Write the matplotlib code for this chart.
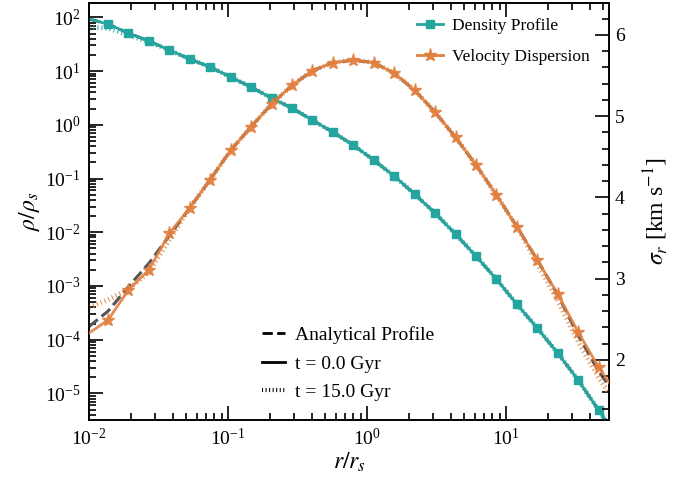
import matplotlib
matplotlib.use("Agg")
import matplotlib.pyplot as plt
from matplotlib.lines import Line2D
from matplotlib.ticker import LogLocator, MultipleLocator, NullFormatter

plt.rcParams.update({
    "font.family": ["Liberation Serif", "DejaVu Serif"],
    "mathtext.fontset": "stix",
    "xtick.direction": "in",
    "ytick.direction": "in",
    "axes.linewidth": 1.2,
})

# radius grid (r/r_s), plus the two line ends
r = [0.0100, 0.0137, 0.0192, 0.0270, 0.0379, 0.0531, 0.0745, 0.1046, 0.1467,
     0.206, 0.289, 0.405, 0.569, 0.798, 1.120, 1.572, 2.205, 3.095, 4.343,
     6.094, 8.55, 12.0, 16.84, 23.63, 33.2, 46.5, 55.5]

# density profile rho/rho_s
rho_t0 = [93, 75.0, 51.0, 36.2, 24.6, 16.7, 11.9, 7.73, 5.04, 3.14, 2.05, 1.22,
          0.731, 0.419, 0.220, 0.111, 0.0512, 0.0227, 9.23e-3, 3.59e-3, 1.34e-3,
          4.58e-4, 1.64e-4, 5.61e-5, 1.76e-5, 4.87e-6, 2.45e-6]
rho_t15 = [66, 63.0, 46.8, 34.7, 24.6, 16.7, 11.9, 7.73, 5.04, 3.14, 2.05, 1.22,
           0.731, 0.419, 0.220, 0.111, 0.0512, 0.0227, 9.23e-3, 3.59e-3, 1.34e-3,
           4.58e-4, 1.64e-4, 5.61e-5, 1.76e-5, 4.87e-6, 2.45e-6]
rho_ana = rho_t0

# radial velocity dispersion [km/s]
sig_t0 = [2.33, 2.49, 2.86, 3.11, 3.56, 3.87, 4.22, 4.58, 4.87, 5.15, 5.38, 5.56,
          5.66, 5.69, 5.66, 5.53, 5.32, 5.05, 4.74, 4.40, 4.03, 3.64, 3.23, 2.81,
          2.34, 1.91, 1.72]
sig_ana = [2.41, 2.60, 2.90, 3.19, 3.53, 3.87, 4.22, 4.58, 4.87, 5.15, 5.38, 5.56,
           5.66, 5.69, 5.66, 5.53, 5.32, 5.05, 4.74, 4.40, 4.03, 3.64, 3.23, 2.80,
           2.30, 1.86, 1.68]
sig_t15 = [2.65, 2.74, 2.87, 3.08, 3.48, 3.87, 4.22, 4.58, 4.87, 5.15, 5.38, 5.56,
           5.66, 5.69, 5.66, 5.53, 5.32, 5.05, 4.74, 4.40, 4.03, 3.64, 3.18, 2.73,
           2.22, 1.78, 1.59]

teal = "#24a5a0"
orange = "#e2803f"
gray = "#555555"
dots = (0, (0.25, 0.6))
marks = slice(1, -1)

fig = plt.figure(figsize=(6.81, 4.82), dpi=100)
ax = fig.add_axes([0.1307, 0.1286, 0.7640, 0.8662])
ax2 = ax.twinx()

# density on the left axis
ax.plot(r, rho_ana, color=gray, ls="--", lw=2.2, zorder=1)
ax.plot(r, rho_t15, color=teal, ls=dots, lw=3.5, alpha=0.8, zorder=2)
ax.plot(r, rho_t0, color=teal, lw=2, marker="s", ms=6, markevery=marks, zorder=3)

# velocity dispersion on the right axis
ax2.plot(r, sig_ana, color=gray, ls="--", lw=2.2, zorder=1)
ax2.plot(r, sig_t15, color=orange, ls=dots, lw=3.5, alpha=0.8, zorder=2)
ax2.plot(r, sig_t0, color=orange, lw=2, marker="*", ms=9.5, markevery=marks,
         alpha=0.9, zorder=3)

ax.set_xscale("log")
ax.set_yscale("log")
ax.set_xlim(0.01, 55.5)
ax.set_ylim(3.2e-6, 189)
ax2.set_ylim(1.26, 6.40)

ax.yaxis.set_major_locator(LogLocator(base=10, numticks=12))
ax.yaxis.set_minor_locator(LogLocator(base=10, subs=range(2, 10), numticks=12))
ax.yaxis.set_minor_formatter(NullFormatter())
ax2.yaxis.set_major_locator(MultipleLocator(1))
ax2.yaxis.set_minor_locator(MultipleLocator(0.2))

ax.tick_params(which="both", top=True, right=False, labelsize=14, width=1.2)
ax.tick_params(which="major", length=10, pad=6)
ax.tick_params(which="minor", length=5)
ax2.tick_params(which="both", labelsize=14, width=1.2)
ax2.tick_params(which="major", length=10, pad=4)
ax2.tick_params(which="minor", length=5)

ax.set_xlabel(r"$r/r_s$", fontsize=17, labelpad=1)
ax.set_ylabel(r"$\rho/\rho_s$", fontsize=17, labelpad=2)
ax2.set_ylabel(r"$\sigma_r$ [km s$^{-1}$]", fontsize=17, labelpad=12)

h1 = [Line2D([], [], color=teal, lw=2, marker="s", ms=6),
      Line2D([], [], color=orange, lw=2, marker="*", ms=9.5)]
leg1 = ax2.legend(h1, ["Density Profile", "Velocity Dispersion"], loc="center",
                  bbox_to_anchor=(0.797, 0.907), frameon=False, fontsize=12.5,
                  handlelength=1.5, handletextpad=0.5, labelspacing=0.85)
ax2.add_artist(leg1)

h2 = [Line2D([], [], color="black", ls="--", lw=2),
      Line2D([], [], color="black", lw=2),
      Line2D([], [], color="black", ls=dots, lw=3)]
ax2.legend(h2, ["Analytical Profile", "t = 0.0 Gyr", "t = 15.0 Gyr"], loc="center",
           bbox_to_anchor=(0.498, 0.135), frameon=False, fontsize=14,
           handlelength=1.2, handletextpad=0.5, labelspacing=0.55)

fig.savefig("out.png", dpi=100)
